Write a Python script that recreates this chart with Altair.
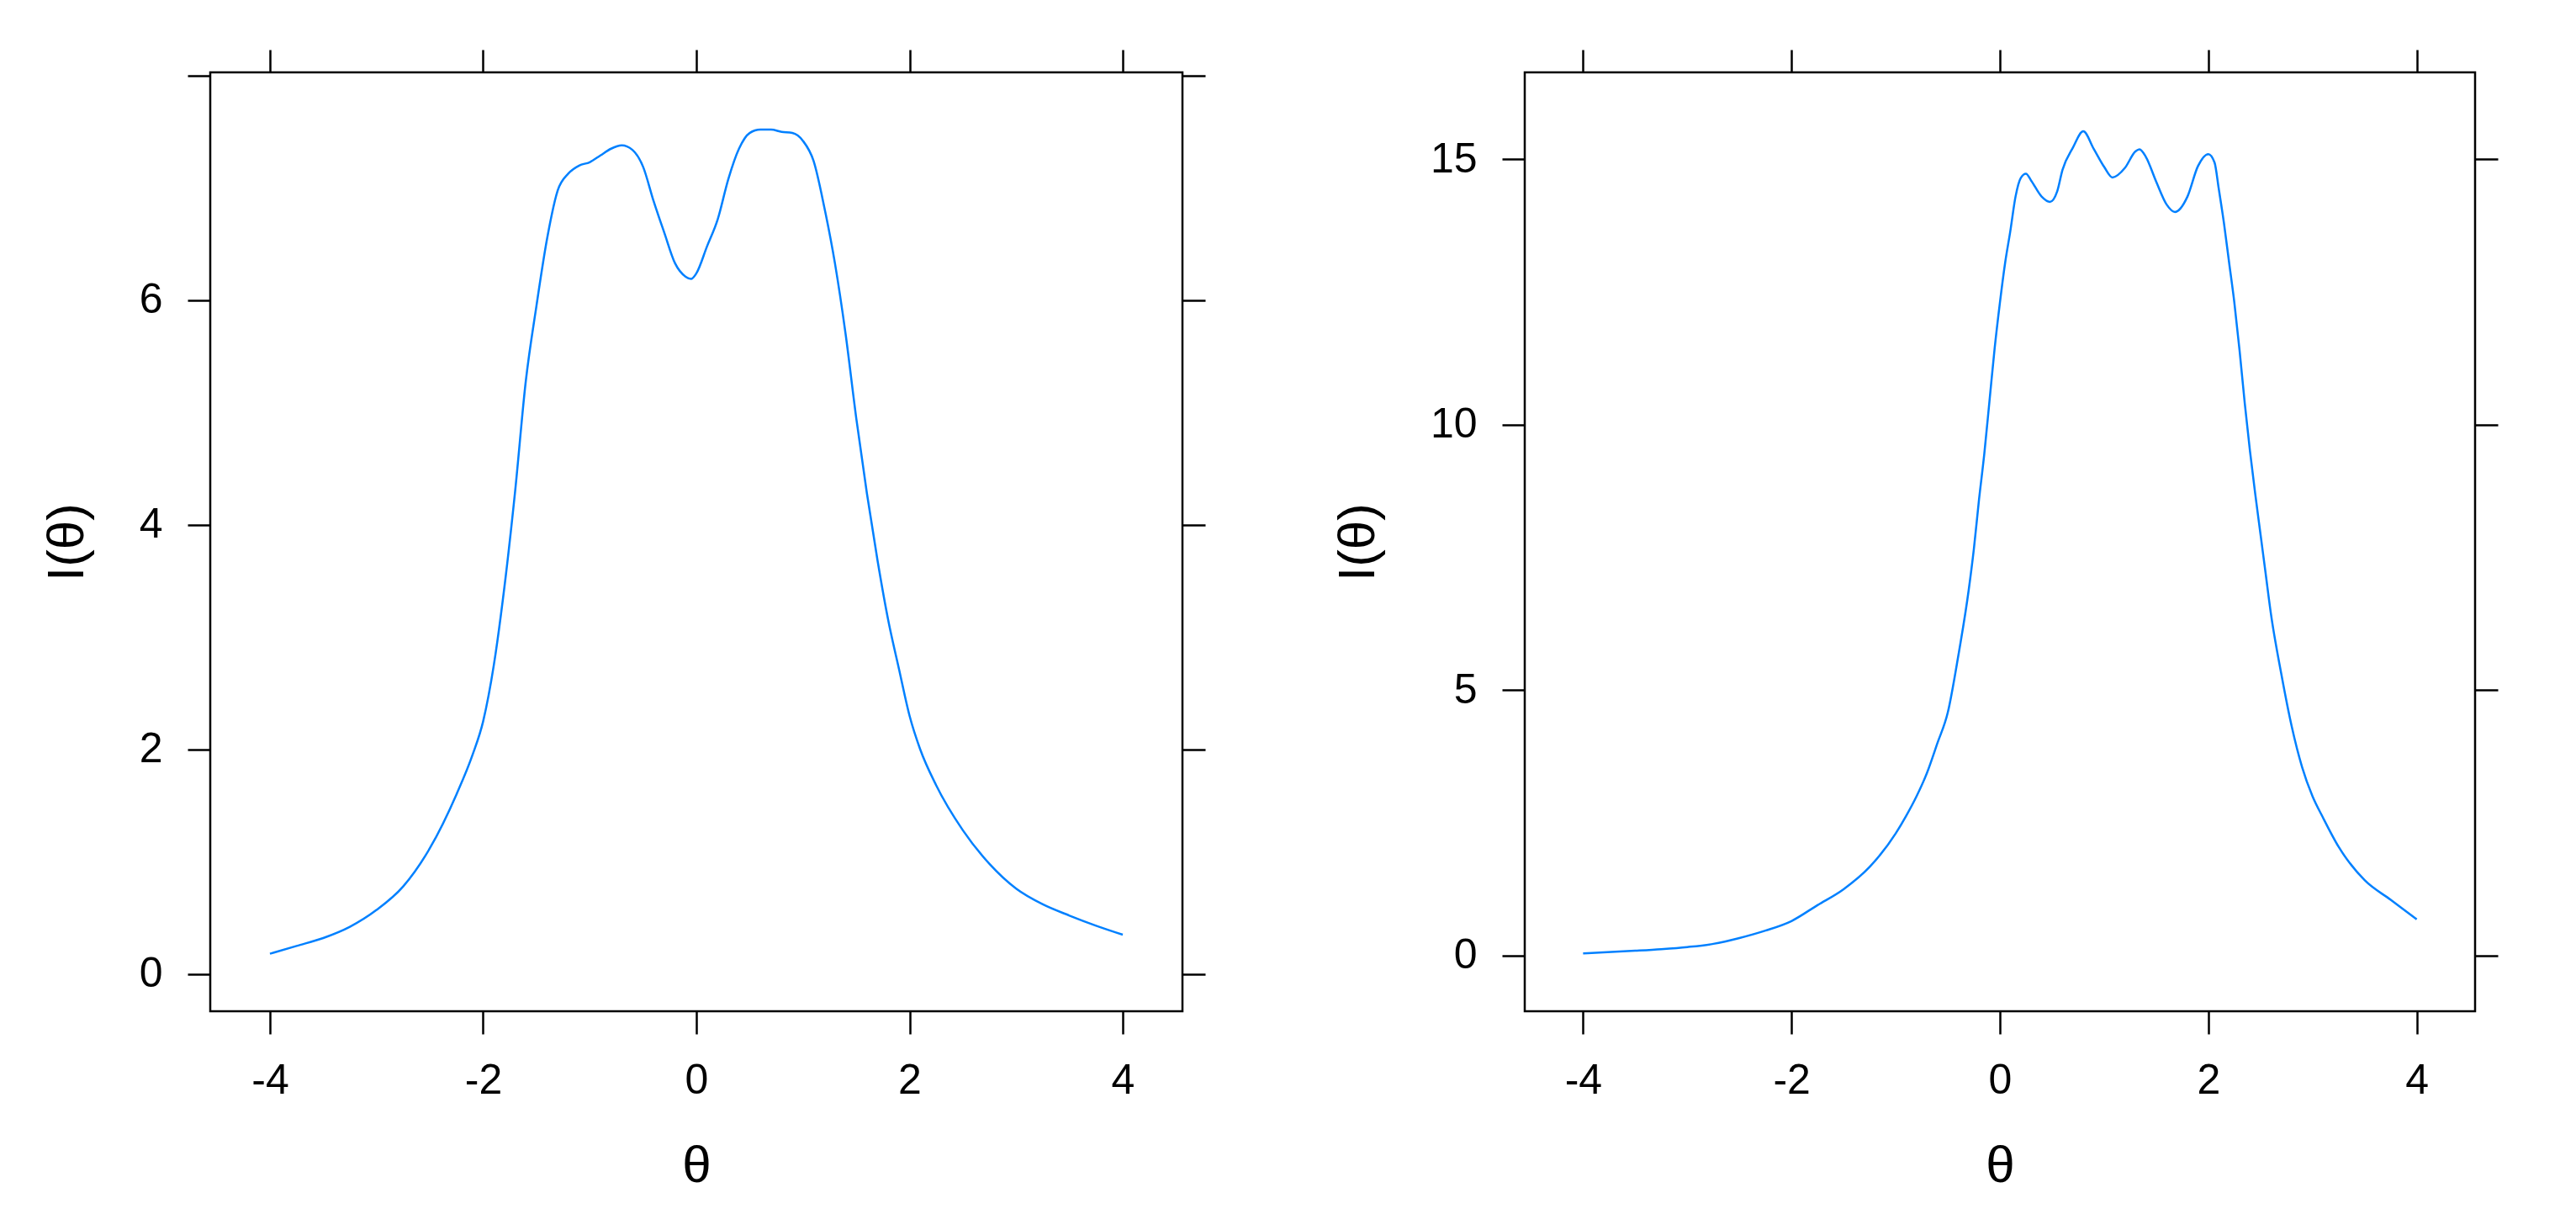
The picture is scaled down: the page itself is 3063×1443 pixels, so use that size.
import altair as alt
import pandas as pd

# ---- data ----
theta1 = [-4.0, -3.75, -3.5, -3.25, -3.0, -2.75, -2.5, -2.25, -2.1, -2.0,
          -1.9, -1.8, -1.7, -1.6, -1.5, -1.4, -1.3, -1.2, -1.1, -1.0,
          -0.9, -0.8, -0.7, -0.6, -0.5, -0.4, -0.3, -0.2, -0.1, -0.05,
          0.0, 0.1, 0.2, 0.3, 0.4, 0.5, 0.6, 0.7, 0.8, 0.9,
          1.0, 1.1, 1.2, 1.3, 1.4, 1.5, 1.6, 1.7, 1.8, 1.9,
          2.0, 2.1, 2.25, 2.5, 2.75, 3.0, 3.25, 3.5, 3.75, 4.0]
info1 = [0.18, 0.25, 0.32, 0.42, 0.57, 0.78, 1.12, 1.6, 1.95, 2.25,
         2.75, 3.45, 4.3, 5.28, 5.95, 6.55, 6.98, 7.13, 7.2, 7.23,
         7.29, 7.35, 7.38, 7.34, 7.19, 6.88, 6.6, 6.33, 6.21, 6.19,
         6.24, 6.48, 6.72, 7.08, 7.35, 7.49, 7.52, 7.52, 7.5, 7.49,
         7.42, 7.24, 6.83, 6.33, 5.7, 4.95, 4.28, 3.68, 3.15, 2.72,
         2.3, 2.0, 1.68, 1.28, 0.98, 0.76, 0.62, 0.52, 0.43, 0.35]

theta2 = [-4.0, -3.5, -3.25, -3.0, -2.75, -2.5, -2.25, -2.0, -1.75, -1.5,
          -1.25, -1.0, -0.9, -0.8, -0.7, -0.6, -0.5, -0.4, -0.3, -0.25,
          -0.2, -0.15, -0.1, -0.05, 0.0, 0.05, 0.1, 0.15, 0.2, 0.25,
          0.3, 0.4, 0.48, 0.55, 0.6, 0.7, 0.8, 0.9, 1.0, 1.08,
          1.2, 1.3, 1.34, 1.4, 1.5, 1.6, 1.68, 1.8, 1.9, 2.0,
          2.06, 2.1, 2.15, 2.2, 2.25, 2.3, 2.35, 2.4, 2.45, 2.5,
          2.55, 2.6, 2.7, 2.8, 2.9, 3.0, 3.1, 3.25, 3.5, 3.75, 4.0]
info2 = [0.04, 0.09, 0.12, 0.16, 0.22, 0.33, 0.47, 0.65, 0.95, 1.25,
         1.67, 2.3, 2.63, 3.0, 3.44, 4.0, 4.58, 5.64, 6.88, 7.66,
         8.6, 9.45, 10.45, 11.45, 12.3, 13.05, 13.65, 14.3, 14.65, 14.73,
         14.6, 14.3, 14.2, 14.4, 14.8, 15.22, 15.53, 15.2, 14.86, 14.66,
         14.84, 15.15, 15.19, 15.05, 14.58, 14.15, 14.01, 14.3, 14.87, 15.1,
         14.94, 14.45, 13.8, 13.05, 12.3, 11.4, 10.4, 9.5, 8.7, 7.95,
         7.2, 6.45, 5.31, 4.32, 3.55, 3.0, 2.6, 2.05, 1.42, 1.05, 0.68]

x_ticks = [-4, -2, 0, 2, 4]
y_ticks1 = [0, 2, 4, 6, 8]
y_ticks2 = [0, 5, 10, 15]
x_title = "θ"
y_title = "I(θ)"

LINE_COLOR = "#0080ff"
FONT = "Liberation Sans"

common = dict(tickSize=27, tickWidth=2.5, tickColor="black", domain=False, grid=False,
              labelFont=FONT, labelFontSize=50, labelColor="black", labelPadding=30,
              titleFont=FONT, titleFontSize=62, titleFontWeight="normal", titleColor="black")

label_expr = "datum.value < 0 ? '-' + abs(datum.value) : (datum.value == 8 ? '' : '' + datum.value)"


def panel(theta, info, xdom, ydom, yvals, width, height):
    df = pd.DataFrame({"theta": theta, "info": info})
    xs = alt.Scale(domain=xdom, nice=False, zero=False)
    ys = alt.Scale(domain=ydom, nice=False, zero=False)
    main = alt.Chart(df).mark_line(color=LINE_COLOR, strokeWidth=2.5, interpolate="monotone").encode(
        x=alt.X("theta:Q", scale=xs,
                axis=alt.Axis(orient="bottom", values=x_ticks, title=x_title,
                              titlePadding=46, labelExpr=label_expr, **common)),
        y=alt.Y("info:Q", scale=ys,
                axis=alt.Axis(orient="left", values=yvals, title=y_title,
                              titlePadding=54, labelExpr=label_expr, **common)),
    )
    ghost = alt.Chart(df).mark_line(strokeOpacity=0).encode(
        x=alt.X("theta:Q", scale=xs,
                axis=alt.Axis(orient="top", values=x_ticks, labels=False, title=None, **common)),
        y=alt.Y("info:Q", scale=ys,
                axis=alt.Axis(orient="right", values=yvals, labels=False, title=None, **common)),
    )
    return alt.layer(main, ghost).resolve_axis(x="independent", y="independent").properties(
        width=width, height=height)


p1 = panel(theta1, info1, [-4.56, 4.56], [-0.332, 8.03], y_ticks1, 1156, 1116)
p2 = panel(theta2, info2, [-4.56, 4.56], [-1.05, 16.64], y_ticks2, 1130, 1116)

chart = alt.hconcat(p1, p2, spacing=146).properties(
    padding={"left": 38, "top": 48, "right": 5, "bottom": 5},
    background="white",
).configure_view(stroke="black", strokeWidth=2.5)

chart.save("out.html", embed_options={"renderer": "svg", "actions": False})
